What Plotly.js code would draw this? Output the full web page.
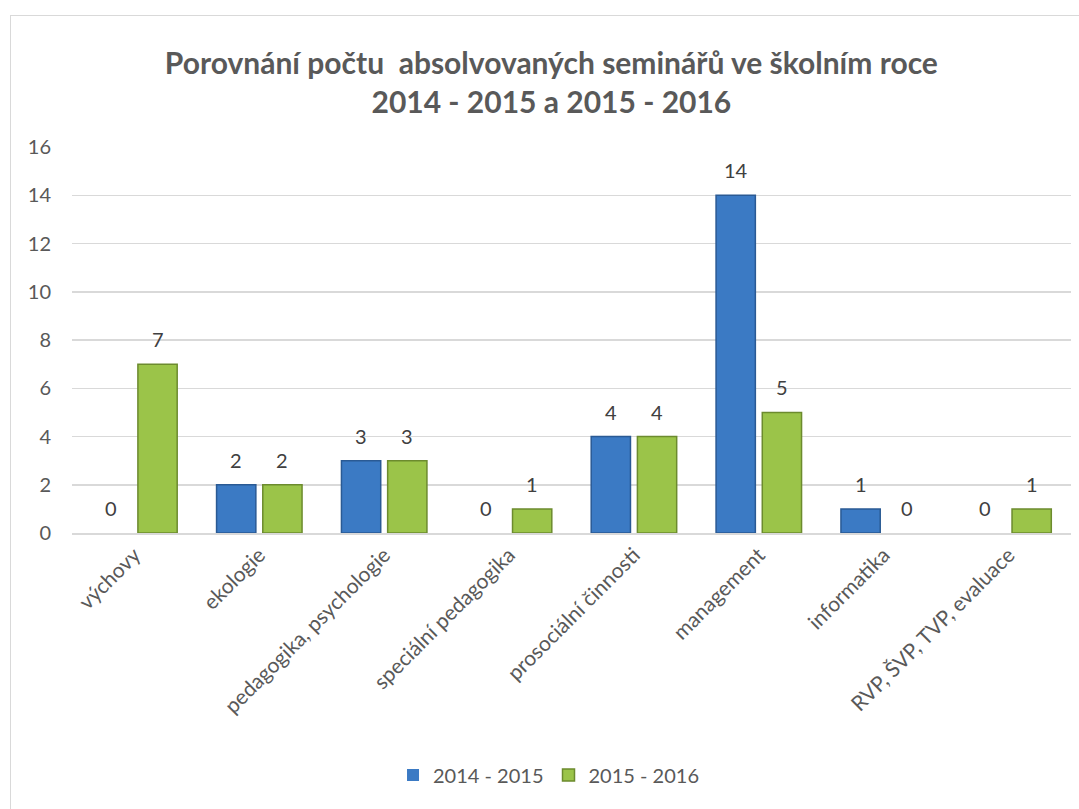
<!DOCTYPE html>
<html>
<head>
<meta charset="utf-8">
<script src="https://cdn.plot.ly/plotly-3.0.1.min.js"></script>
<style>
html,body{margin:0;padding:0;background:#fff;}
#frame{position:absolute;left:10px;top:15px;width:1075px;height:800px;border:1.5px solid #d9d9d9;box-sizing:border-box;}
#chart{position:absolute;left:0;top:0;width:1079px;height:809px;}
</style>
</head>
<body>
<div id="frame"></div>
<div id="chart"></div>
<script>
const categories = ["výchovy","ekologie","pedagogika, psychologie","speciální pedagogika","prosociální činnosti","management","informatika","RVP, ŠVP, TVP, evaluace"];
const series2014 = [0,2,3,0,4,14,1,0];
const series2015 = [7,2,3,1,4,5,0,1];
const seriesNames = ["2014 - 2015","2015 - 2016"];
const yTicks = [0,2,4,6,8,10,12,14,16];

const FONT = "Lato, 'Open Sans', sans-serif";
const W = 1079, H = 809, ML = 72, MR = 8, MT = 147, MB = 276;
const BARGAP = 0.26;
const catW = (W - ML - MR) / categories.length;
const offset = catW * (1 - BARGAP) / 4;

const traces = [
  {type:'bar', name:seriesNames[0], x:categories, y:series2014,
   marker:{color:'#3b7ac4', line:{color:'#2a5a94', width:series2014.map(v => v === 0 ? 0 : 1.5)}},
   hoverinfo:'none'},
  {type:'bar', name:seriesNames[1], x:categories, y:series2015,
   marker:{color:'#9bc449', line:{color:'#6c8b2e', width:series2015.map(v => v === 0 ? 0 : 1.5)}},
   hoverinfo:'none'}
];
const annotations = [];
[series2014, series2015].forEach((s, si) => {
  s.forEach((v, i) => {
    annotations.push({x:categories[i], y:v, xref:'x', yref:'y', text:String(v), showarrow:false,
      xshift:(si === 0 ? -offset : offset), yshift:25, yanchor:'middle', xanchor:'center',
      font:{family:FONT, size:20, color:'#404040'}});
  });
});
const layout = {
  width:W, height:H,
  paper_bgcolor:'rgba(0,0,0,0)', plot_bgcolor:'rgba(0,0,0,0)',
  font:{family:FONT, color:'#595959'},
  margin:{l:ML, r:MR, t:MT, b:MB},
  title:{text:'<b>Porovnání počtu  absolvovaných seminářů ve školním roce<br>2014 - 2015 a 2015 - 2016</b>',
         font:{family:FONT,size:30,color:'#595959'}, x:0.511, xanchor:'center', y:0.909, yanchor:'middle'},
  barmode:'group', bargap:BARGAP, bargroupgap:0.15,
  xaxis:{type:'category', tickangle:-45, tickfont:{family:FONT,size:21,color:'#595959'},
         showline:true, linecolor:'#d9d9d9', linewidth:1.5, ticks:'', showgrid:false, fixedrange:true},
  yaxis:{range:[0,16], tickvals:yTicks, ticktext:yTicks.map(String),
         tickfont:{family:FONT,size:20,color:'#595959'}, showgrid:true, gridcolor:'#d9d9d9', gridwidth:1.5,
         zeroline:false, showline:false, ticks:'', ticklabelstandoff:20, fixedrange:true},
  legend:{orientation:'h', x:0.477, xanchor:'center', y:-0.627, yanchor:'middle',
          font:{family:FONT,size:20,color:'#595959'}, itemwidth:30},
  annotations:annotations,
  showlegend:true
};
Plotly.newPlot('chart', traces, layout, {displayModeBar:false, staticPlot:true});
</script>
</body>
</html>
